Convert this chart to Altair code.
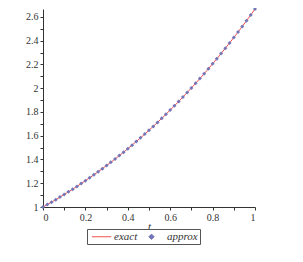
import altair as alt
import pandas as pd

t_vals = [0.00, 0.02, 0.04, 0.06, 0.08, 0.10, 0.12, 0.14, 0.16, 0.18,
          0.20, 0.22, 0.24, 0.26, 0.28, 0.30, 0.32, 0.34, 0.36, 0.38,
          0.40, 0.42, 0.44, 0.46, 0.48, 0.50, 0.52, 0.54, 0.56, 0.58,
          0.60, 0.62, 0.64, 0.66, 0.68, 0.70, 0.72, 0.74, 0.76, 0.78,
          0.80, 0.82, 0.84, 0.86, 0.88, 0.90, 0.92, 0.94, 0.96, 0.98, 1.00]
exact_vals = [1.0000, 1.0202, 1.0408, 1.0618, 1.0833, 1.1052, 1.1275, 1.1503, 1.1735, 1.1972,
              1.2213, 1.2460, 1.2711, 1.2967, 1.3229, 1.3495, 1.3767, 1.4044, 1.4326, 1.4613,
              1.4907, 1.5205, 1.5510, 1.5820, 1.6136, 1.6458, 1.6786, 1.7120, 1.7461, 1.7807,
              1.8160, 1.8519, 1.8885, 1.9257, 1.9636, 2.0022, 2.0414, 2.0813, 2.1220, 2.1633,
              2.2053, 2.2481, 2.2916, 2.3358, 2.3808, 2.4265, 2.4730, 2.5202, 2.5683, 2.6171, 2.6667]
approx_vals = list(exact_vals)
series_names = ["exact", "approx"]

df = pd.DataFrame(
    {"t": t_vals * 2,
     "y": exact_vals + approx_vals,
     "series": [series_names[0]] * len(t_vals) + [series_names[1]] * len(t_vals)}
)

FONT = "Times New Roman, Liberation Serif, serif"
x_ticks = [round(i * 0.1, 1) for i in range(11)]
y_ticks = [round(1 + i * 0.1, 1) for i in range(17)]

color_scale = alt.Scale(domain=series_names, range=["#f05050", "#7276b8"])
shape_scale = alt.Scale(domain=series_names, range=["M-2.5,0H4.8", "diamond"])

lbl = "(round(datum.value*10) % 2 == 0) ? format(datum.value, '~g') : ''"

x_enc = alt.X("t:Q", scale=alt.Scale(domain=[0, 1], nice=False),
              axis=alt.Axis(title="t", values=x_ticks, labelExpr=lbl,
                            titleFontStyle="italic", titleFontWeight="normal",
                            titlePadding=-2, grid=False))
y_enc = alt.Y("y:Q", scale=alt.Scale(domain=[1, 2.6667], nice=False, zero=False),
              axis=alt.Axis(title=None, values=y_ticks, labelExpr=lbl, grid=False))

legend = alt.Legend(title=None, orient="none", direction="horizontal",
                    legendX=44, legendY=220, strokeColor="#555555",
                    padding=2, labelFontStyle="italic", symbolSize=28,
                    symbolOffset=4, labelOffset=10, columnPadding=4,
                    labelLimit=100, symbolStrokeWidth=1)

line = alt.Chart(df).transform_filter(alt.datum.series == "exact").mark_line(
    strokeWidth=1).encode(
    x=x_enc, y=y_enc,
    color=alt.Color("series:N", scale=color_scale, legend=legend),
)
pts = alt.Chart(df).transform_filter(alt.datum.series == "approx").mark_point(
    filled=True, opacity=1, size=16).encode(
    x=x_enc, y=y_enc,
    color=alt.Color("series:N", scale=color_scale, legend=legend),
    shape=alt.Shape("series:N", scale=shape_scale, legend=legend),
)

chart = alt.layer(line, pts).properties(
    width=212, height=198,
    autosize=alt.AutoSizeParams(type="none"),
    padding={"left": 35, "top": 1, "right": 40, "bottom": 40},
).configure_view(stroke=None).configure_axis(
    labelFont=FONT, titleFont=FONT, labelFontSize=10, titleFontSize=11,
    labelColor="#333333", titleColor="#333333", domainColor="#333333",
    tickColor="#333333", tickSize=3, labelPadding=2,
).configure_legend(labelFont=FONT, labelFontSize=11, labelColor="#333333")

chart.save("out.html", embed_options={"renderer": "svg", "actions": False})
